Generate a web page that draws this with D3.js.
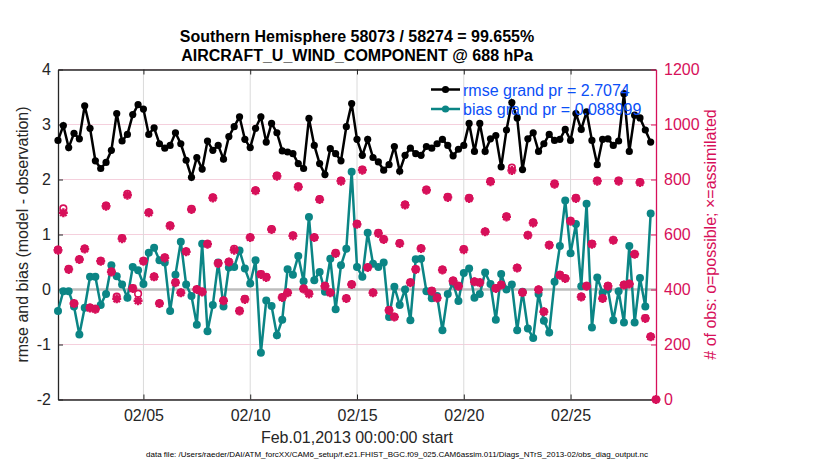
<!DOCTYPE html>
<html lang="en">
<head>
<meta charset="UTF-8" />
<title>obs_diag time series</title>
<script src="https://cdn.jsdelivr.net/npm/d3@7"></script>
<style>
  body { margin: 0; background: #fff; }
  text { font-family: "Liberation Sans", Arial, Helvetica, sans-serif; }
</style>
</head>
<body>
<div id="chart"></div>
<script>
// --- data (6-hourly bins starting Feb.01,2013 00Z) ---
var startDate = new Date(2013, 1, 1, 0, 0, 0);
var binHours = 6;

var rmse = [2.71, 2.98, 2.58, 2.84, 2.74, 3.34, 2.93, 2.34, 2.20, 2.31, 2.53, 3.20, 2.70, 2.82, 3.18, 3.36,
  3.28, 2.82, 2.94, 2.65, 2.57, 2.62, 2.85, 2.65, 2.35, 2.04, 2.40, 2.19, 2.70, 2.53, 2.62, 2.37,
  2.78, 2.96, 3.14, 2.73, 2.58, 2.93, 3.14, 2.68, 3.02, 2.85, 2.52, 2.50, 2.47, 2.29, 2.20, 3.11,
  2.62, 2.29, 2.09, 2.56, 2.47, 2.34, 2.96, 3.38, 2.73, 2.44, 2.73, 2.40, 2.32, 2.17, 2.27, 2.60,
  2.15, 2.44, 2.57, 2.47, 2.44, 2.60, 2.57, 2.65, 2.73, 2.62, 2.43, 2.55, 2.62, 3.02, 2.51, 3.02,
  2.51, 2.74, 2.80, 2.23, 2.90, 3.40, 3.12, 2.18, 2.74, 2.85, 2.51, 2.65, 2.82, 2.71, 2.73, 2.91,
  2.71, 3.20, 2.91, 3.23, 2.71, 2.27, 2.73, 2.74, 2.62, 2.70, 3.56, 2.51, 3.17, 3.12, 2.90, 2.68];

var bias = [-0.39, -0.03, -0.03, -0.31, -0.82, -0.33, 0.23, 0.23, -0.28, -0.08, 0.44, 0.24, 0.09, -0.15, 0.41, 0.35,
  0.10, 0.67, 0.76, 0.53, 0.49, -0.39, 0.27, 0.87, 0.09, -0.12, -0.64, 0.83, -0.76, -0.28, 0.49, -0.31,
  0.40, 0.41, 0.71, 0.38, 0.11, 0.53, -1.15, -0.20, -0.30, -0.83, -0.55, 0.37, 0.27, 0.61, 0.15, 1.32,
  0.17, 0.32, -0.04, 0.56, -0.36, 0.44, 0.74, 2.14, 0.41, 0.23, 1.03, 0.47, 0.41, 0.49, -0.50, 0.05,
  -0.28, 0.00, -0.56, 0.55, 0.56, -0.03, -0.16, -0.12, -0.74, -0.08, 0.11, -0.21, 0.30, 0.38, -0.15, -0.08,
  0.31, 0.10, -0.55, 0.28, 0.00, 0.09, -0.74, -0.04, -0.71, -0.88, -0.08, -0.57, -0.78, 0.14, 0.79, 1.62,
  0.66, 1.19, 0.06, 1.56, -0.69, 0.22, -0.06, 0.00, -0.56, -0.03, -0.60, 0.79, -0.60, 0.21, -0.31, 1.38];

// number of obs: one extra bin at the very end with 0
var nPossible = [545, 695, 475, 350, 510, 549, 334, 330, 504, 705, 465, 374, 587, 748, 405, 385,
  504, 681, 447, 350, 517, 633, 426, 389, 539, 693, 401, 392, 566, 735, 496, 360,
  501, 548, 323, 366, 590, 761, 456, 446, 620, 814, 372, 389, 597, 775, 403, 386,
  590, 729, 413, 389, 533, 796, 368, 419, 639, 836, 481, 389, 606, 583, 325, 301,
  569, 709, 426, 474, 550, 763, 395, 370, 472, 737, 432, 413, 547, 733, 429, 426,
  611, 794, 405, 417, 666, 843, 479, 390, 598, 644, 400, 320, 562, 785, 453, 441,
  650, 733, 374, 413, 566, 796, 368, 413, 580, 796, 417, 421, 529, 791, 296, 229, 0];

var nUsed = [543, 679, 473, 349, 509, 547, 333, 328, 503, 703, 464, 366, 585, 743, 404, 359,
  503, 679, 446, 349, 515, 631, 425, 388, 537, 691, 400, 391, 565, 733, 495, 359,
  500, 543, 322, 364, 589, 759, 455, 444, 618, 812, 371, 388, 595, 773, 402, 384,
  589, 727, 412, 388, 531, 794, 367, 418, 637, 834, 480, 388, 604, 582, 324, 300,
  567, 707, 425, 473, 549, 761, 394, 369, 471, 735, 431, 412, 545, 731, 428, 425,
  610, 792, 404, 416, 664, 833, 478, 389, 597, 642, 399, 319, 561, 783, 452, 440,
  648, 731, 373, 412, 565, 794, 367, 412, 579, 794, 416, 420, 528, 789, 295, 228, 0];

var leftTicks = [-2, -1, 0, 1, 2, 3, 4];
var rightTicks = [0, 200, 400, 600, 800, 1000, 1200];
var xTickDates = [new Date(2013, 1, 5), new Date(2013, 1, 10), new Date(2013, 1, 15), new Date(2013, 1, 20), new Date(2013, 1, 25)];
var legendLabels = ["rmse grand pr = 2.7074", "bias grand pr = 0.088999"];

var titleLines = ["Southern Hemisphere 58073 / 58274 = 99.655%", "AIRCRAFT_U_WIND_COMPONENT @ 688 hPa"];
var dataFile = "data file: /Users/raeder/DAI/ATM_forcXX/CAM6_setup/f.e21.FHIST_BGC.f09_025.CAM6assim.011/Diags_NTrS_2013-02/obs_diag_output.nc";

// --- layout ---
var W = 830, H = 470;
var pLeft = 58, pRight = 656, pTop = 69.5, pBottom = 399.5;

var pink = "#d7105a", teal = "#0b8585", dark = "#262626";

var svg = d3.select("#chart").append("svg")
  .attr("width", W)
  .attr("height", H);

function binTime(i) {
  return new Date(startDate.getTime() + i * binHours * 3600 * 1000);
}

// plain labels, hyphen minus and no thousands comma (like matlab)
function plainNum(d) { return String(d); }

var xScale = d3.scaleTime()
  .domain([new Date(2013, 1, 1), new Date(2013, 2, 1)])
  .range([pLeft, pRight]);

var yLeft = d3.scaleLinear().domain([-2, 4]).range([pBottom, pTop]);
var yRight = d3.scaleLinear().domain([0, 1200]).range([pBottom, pTop]);

// grid lines
svg.append("g").selectAll("line.hgrid")
  .data(rightTicks)
  .enter().append("line")
  .attr("x1", pLeft).attr("x2", pRight)
  .attr("y1", function(d) { return yRight(d); })
  .attr("y2", function(d) { return yRight(d); })
  .style("stroke", "#f5d0dd")
  .style("stroke-width", 1);

svg.append("g").selectAll("line.vgrid")
  .data(xTickDates)
  .enter().append("line")
  .attr("x1", function(d) { return xScale(d); })
  .attr("x2", function(d) { return xScale(d); })
  .attr("y1", pTop).attr("y2", pBottom)
  .style("stroke", "#dadada")
  .style("stroke-width", 1);

// zero line
svg.append("line")
  .attr("x1", pLeft).attr("x2", pRight)
  .attr("y1", yLeft(0)).attr("y2", yLeft(0))
  .style("stroke", "#bdbdbd")
  .style("stroke-width", 2.5);

// axes
var xAxisB = d3.axisBottom(xScale).tickValues(xTickDates).tickFormat(d3.timeFormat("%m/%d")).tickSizeInner(-5).tickSizeOuter(0).tickPadding(10);
var xAxisT = d3.axisTop(xScale).tickValues(xTickDates).tickFormat("").tickSizeInner(-5).tickSizeOuter(0);
var yAxisL = d3.axisLeft(yLeft).tickValues(leftTicks).tickFormat(plainNum).tickSizeInner(-5).tickSizeOuter(0).tickPadding(7);
var yAxisR = d3.axisRight(yRight).tickValues(rightTicks).tickFormat(plainNum).tickSizeInner(-5).tickSizeOuter(0).tickPadding(8);

var gB = svg.append("g").attr("transform", "translate(0," + pBottom + ")").call(xAxisB);
var gT = svg.append("g").attr("transform", "translate(0," + pTop + ")").call(xAxisT);
var gL = svg.append("g").attr("transform", "translate(" + pLeft + ",0)").call(yAxisL);
var gR = svg.append("g").attr("transform", "translate(" + pRight + ",0)").call(yAxisR);

[gB, gT, gL].forEach(function(g) {
  g.select(".domain").style("stroke", dark).style("stroke-width", 1.3);
  g.selectAll(".tick line").style("stroke", dark);
  g.selectAll("text").style("font-size", "16px").style("fill", dark)
    .style("font-family", "Liberation Sans, Arial, sans-serif");
});
gR.select(".domain").style("stroke", pink).style("stroke-width", 1.3);
gR.selectAll(".tick line").style("stroke", pink);
gR.selectAll("text").style("font-size", "16px").style("fill", pink)
  .style("font-family", "Liberation Sans, Arial, sans-serif");

// rmse line
var seriesLine = d3.line()
  .x(function(d, i) { return xScale(binTime(i)); })
  .y(function(d) { return yLeft(d); });

svg.append("path")
  .datum(rmse)
  .attr("d", seriesLine)
  .style("fill", "none")
  .style("stroke", "#000")
  .style("stroke-width", 2.5);

svg.append("g").selectAll("circle")
  .data(rmse)
  .enter().append("circle")
  .attr("cx", function(d, i) { return xScale(binTime(i)); })
  .attr("cy", function(d) { return yLeft(d); })
  .attr("r", 3.6)
  .style("fill", "#000");

// bias line
svg.append("path")
  .datum(bias)
  .attr("d", seriesLine)
  .style("fill", "none")
  .style("stroke", teal)
  .style("stroke-width", 2.5);

svg.append("g").selectAll("circle")
  .data(bias)
  .enter().append("circle")
  .attr("cx", function(d, i) { return xScale(binTime(i)); })
  .attr("cy", function(d) { return yLeft(d); })
  .attr("r", 4)
  .style("fill", teal);

// obs counts: o = possible, * = assimilated
svg.append("g").selectAll("circle")
  .data(nPossible)
  .enter().append("circle")
  .attr("cx", function(d, i) { return xScale(binTime(i)); })
  .attr("cy", function(d) { return yRight(d); })
  .attr("r", 3.3)
  .style("fill", "none")
  .style("stroke", pink)
  .style("stroke-width", 1.6);

var star = "M-4.5,0L4.5,0M0,-4.5L0,4.5M-3.2,-3.2L3.2,3.2M-3.2,3.2L3.2,-3.2";
svg.append("g").selectAll("path")
  .data(nUsed)
  .enter().append("path")
  .attr("d", star)
  .attr("transform", function(d, i) { return "translate(" + xScale(binTime(i)) + "," + yRight(d) + ")"; })
  .style("fill", "none")
  .style("stroke", pink)
  .style("stroke-width", 2.4);

// legend (no box)
var legY = [89.5, 109];
var legColors = ["#000", teal];
var leg = svg.append("g");
legColors.forEach(function(c, k) {
  leg.append("line")
    .attr("x1", 431).attr("x2", 460)
    .attr("y1", legY[k]).attr("y2", legY[k])
    .style("stroke", c).style("stroke-width", 2.5);
  leg.append("circle")
    .attr("cx", 445.5).attr("cy", legY[k]).attr("r", 3.6)
    .style("fill", c);
  leg.append("text")
    .attr("x", 463).attr("y", legY[k] + 6)
    .text(legendLabels[k])
    .style("font-size", "16px")
    .style("fill", "#0b4ff7");
});

// titles and labels
svg.selectAll("text.title")
  .data(titleLines)
  .enter().append("text")
  .attr("class", "title")
  .attr("x", (pLeft + pRight) / 2)
  .attr("y", function(d, i) { return 42 + i * 19; })
  .attr("text-anchor", "middle")
  .style("font-size", "16px")
  .style("font-weight", "bold")
  .style("fill", "#000")
  .text(function(d) { return d; });

svg.append("text")
  .attr("x", (pLeft + pRight) / 2)
  .attr("y", 443)
  .attr("text-anchor", "middle")
  .style("font-size", "16px")
  .style("fill", dark)
  .text("Feb.01,2013 00:00:00 start");

svg.append("text")
  .attr("transform", "translate(28," + (pTop + pBottom) / 2 + ") rotate(-90)")
  .attr("text-anchor", "middle")
  .style("font-size", "16px")
  .style("fill", dark)
  .text("rmse and bias (model - observation)");

svg.append("text")
  .attr("transform", "translate(716," + (pTop + pBottom) / 2 + ") rotate(-90)")
  .attr("text-anchor", "middle")
  .style("font-size", "16px")
  .style("fill", pink)
  .text("# of obs: o=possible; \u00d7=assimilated");

svg.append("text")
  .attr("x", 397)
  .attr("y", 457)
  .attr("text-anchor", "middle")
  .style("font-size", "8px")
  .style("fill", "#000")
  .text(dataFile);
</script>
</body>
</html>
